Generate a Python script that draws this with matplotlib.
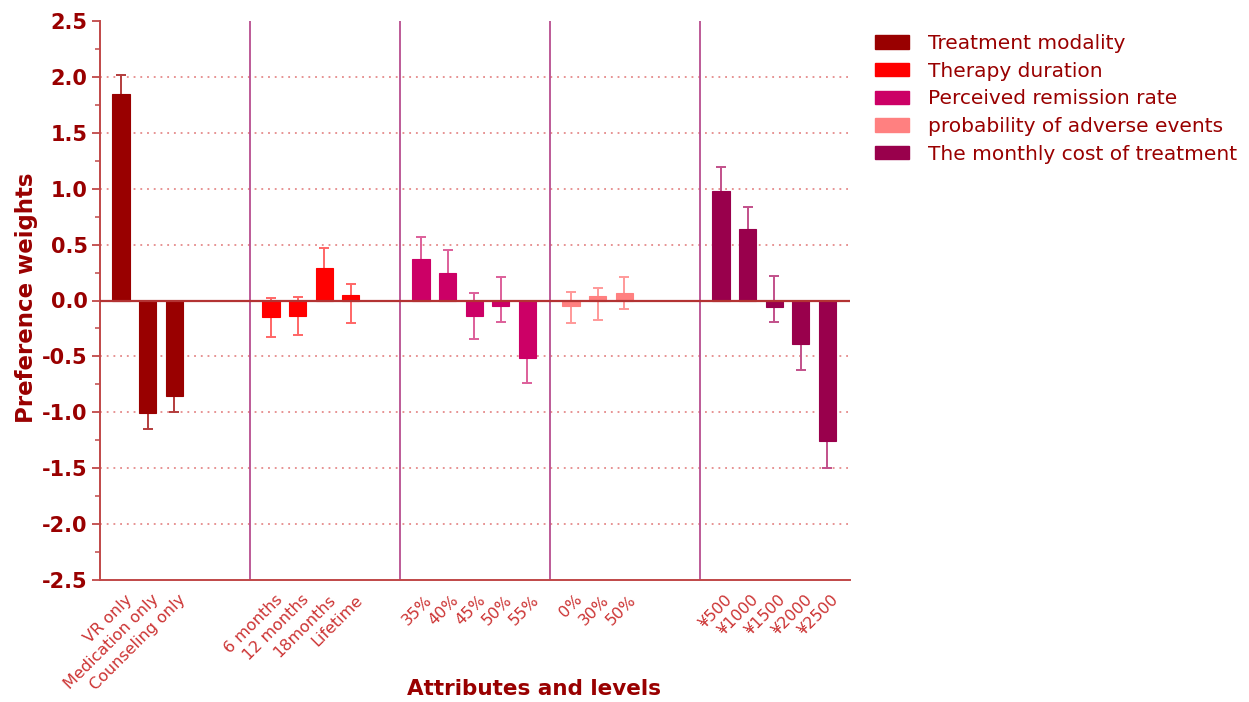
import matplotlib
matplotlib.use("Agg")
import matplotlib.pyplot as plt
from matplotlib.patches import Patch
from matplotlib.ticker import MultipleLocator
from matplotlib.transforms import ScaledTranslation
import numpy as np

plt.rcParams['font.family'] = ['DejaVu Sans']

# ---- data ----
groups = ["Treatment modality", "Therapy duration", "Perceived remission rate",
          "probability of adverse events", "The monthly cost of treatment"]
levels = [
    ["VR only", "Medication only", "Counseling only"],
    ["6 months", "12 months", "18months", "Lifetime"],
    ["35%", "40%", "45%", "50%", "55%"],
    ["0%", "30%", "50%"],
    ["¥500", "¥1000", "¥1500", "¥2000", "¥2500"],
]
values = [
    [1.85, -1.01, -0.85],
    [-0.15, -0.14, 0.29, 0.05],
    [0.37, 0.25, -0.14, -0.05, -0.51],
    [-0.05, 0.04, 0.07],
    [0.98, 0.64, -0.055, -0.39, -1.26],
]
ci_low = [
    [1.68, -1.15, -1.00],
    [-0.33, -0.31, 0.11, -0.20],
    [0.17, 0.05, -0.345, -0.19, -0.735],
    [-0.20, -0.17, -0.075],
    [0.77, 0.44, -0.19, -0.62, -1.50],
]
ci_high = [
    [2.02, -0.87, -0.70],
    [0.025, 0.03, 0.47, 0.15],
    [0.57, 0.45, 0.07, 0.21, -0.29],
    [0.08, 0.115, 0.21],
    [1.19, 0.84, 0.22, -0.16, -1.02],
]
colors = ["#990000", "#ff0000", "#cc0066", "#ff8080", "#99004c"]
err_colors = ["#b33c3c", "#ff6666", "#dd5f9a", "#ff9999", "#c2508a"]

# ---- layout ----
panel_w = 5.64
first_off = 0.79
bar_w = 0.65
label_col = "#cc3333"
dark = "#990000"
W, H = 1249, 702

fig = plt.figure(figsize=(W / 100, H / 100), dpi=100)
ax = fig.add_axes([100 / W, 1 - 580 / H, 750 / W, 559 / H])

xt, xl = [], []
for g in range(len(groups)):
    n = len(values[g])
    xs = g * panel_w + first_off + np.arange(n)
    v = np.array(values[g])
    lo = v - np.array(ci_low[g])
    hi = np.array(ci_high[g]) - v
    ax.errorbar(xs, v, yerr=[lo, hi], fmt='none', ecolor=err_colors[g],
                elinewidth=1.4, capsize=3.4, capthick=1.4, zorder=2)
    ax.bar(xs, v, width=bar_w, color=colors[g], label=groups[g], zorder=3,
           edgecolor=colors[g], linewidth=0.8)
    xt += list(xs)
    xl += levels[g]

for g in range(1, len(groups)):
    ax.axvline(g * panel_w, color="#b84d8f", lw=1.3, zorder=1)

ax.axhline(0, color="#b33333", lw=1.6, zorder=4)

ax.set_xlim(0, panel_w * len(groups))
ax.set_ylim(-2.5, 2.5)
ax.yaxis.set_minor_locator(MultipleLocator(0.25))
for yv in [-2.0, -1.5, -1.0, -0.5, 0.5, 1.0, 1.5, 2.0]:
    ax.axhline(yv, color="#e07575", lw=1.1, ls=(0, (1.2, 3.2)), zorder=0)

yt = np.arange(-2.5, 2.51, 0.5)
ax.set_yticks(yt)
ax.set_yticklabels([f"{t:.1f}" for t in yt], fontsize=15, fontweight='bold', color=dark)
ax.set_xticks(xt)
ax.set_xticklabels(xl, rotation=45, rotation_mode='anchor', ha='right', va='center',
                   fontsize=11.5, color=label_col)
ax.tick_params(axis='x', length=0, pad=12.5)
off = ScaledTranslation(9 / 100, 0, fig.dpi_scale_trans)
for lab in ax.get_xticklabels():
    lab.set_transform(lab.get_transform() + off)
ax.tick_params(axis='y', which='major', length=6, width=1.3, color="#c04848", pad=3)
ax.tick_params(axis='y', which='minor', length=3.5, width=1.1, color="#c04848")

for s in ['top', 'right']:
    ax.spines[s].set_visible(False)
for s in ['left', 'bottom']:
    ax.spines[s].set_color("#c04848")
    ax.spines[s].set_linewidth(1.4)

fig.text(27 / W, 1 - 298 / H, "Preference weights", rotation=90, ha='center', va='center',
         fontsize=16.5, fontweight='bold', color=dark)
fig.text(534 / W, 1 - 689 / H, "Attributes and levels", ha='center', va='center',
         fontsize=15.5, fontweight='bold', color=dark)

handles = [Patch(facecolor=c, edgecolor=c) for c in colors]
leg = fig.legend(handles, groups, loc='upper left', bbox_to_anchor=(875 / W, 1 - 34 / H),
                 frameon=False, fontsize=14.5, handlelength=1.7, handleheight=0.65,
                 labelspacing=0.43, handletextpad=0.95, borderpad=0, borderaxespad=0)
for t in leg.get_texts():
    t.set_color(dark)

fig.savefig("out.png", dpi=100)
